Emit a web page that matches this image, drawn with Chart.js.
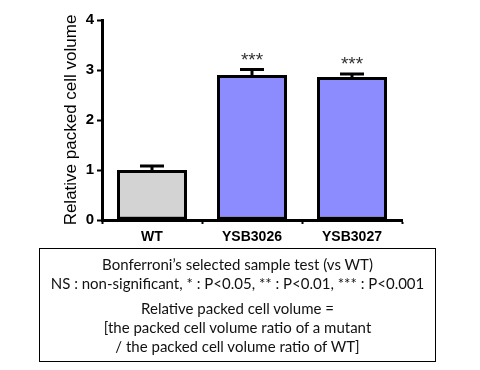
<!DOCTYPE html>
<html>
<head>
<meta charset="utf-8">
<script src="https://cdn.jsdelivr.net/npm/chart.js@4/dist/chart.umd.min.js"></script>
<style>
  body { margin: 0; background: #fff; }
  #wrap { position: relative; width: 480px; height: 370px; }
  #chartBox { position: absolute; left: 0; top: 0; width: 480px; height: 250px; }
  #note {
    position: absolute; left: 39px; top: 248px; width: 397px; height: 114px;
    border: 1.5px solid #000; box-sizing: border-box;
    font-family: Lato, "Open Sans", sans-serif; font-size: 15px; color: #111;
    text-align: center; line-height: 19px; padding-top: 6px;
  }
  #note p { margin: 0 0 6px 0; }
</style>
</head>
<body>
<div id="wrap">
  <div id="chartBox"><canvas id="myChart" width="480" height="250"></canvas></div>
  <div id="note">
    <p>Bonferroni’s selected sample test (vs WT)<br>NS : non-significant, * : P&lt;0.05, ** : P&lt;0.01, *** : P&lt;0.001</p>
    <p>Relative packed cell volume =<br>[the packed cell volume ratio of a mutant<br>/ the packed cell volume ratio of WT]</p>
  </div>
</div>
<script>
var strains = ["WT", "YSB3026", "YSB3027"];
var volume = [1.0, 2.9, 2.86];
var errUp = [0.08, 0.11, 0.06];
var stars = ["", "***", "***"];
var fills = ["#d3d3d3", "#8c8cff", "#8c8cff"];

// upper error bars + significance stars
var errorBars = {
    id: "errorBars",
    afterDatasetsDraw: function (chart) {
        var ctx = chart.ctx;
        var y = chart.scales.y;
        var meta = chart.getDatasetMeta(0);
        ctx.save();
        for (var i = 0; i < volume.length; i++) {
            var bx = meta.data[i].x;
            var top = y.getPixelForValue(volume[i]);
            var hi = y.getPixelForValue(volume[i] + errUp[i]);
            ctx.strokeStyle = "#000";
            ctx.lineWidth = 3;
            ctx.beginPath();
            ctx.moveTo(bx, top);
            ctx.lineTo(bx, hi);
            ctx.moveTo(bx - 12, hi);
            ctx.lineTo(bx + 12, hi);
            ctx.stroke();
            if (stars[i]) {
                ctx.fillStyle = "#333";
                ctx.font = "19px Arial, 'Liberation Sans'";
                ctx.textAlign = "center";
                ctx.textBaseline = "middle";
                ctx.fillText(stars[i], bx, hi - 9);
            }
        }
        ctx.restore();
    }
};

new Chart(document.getElementById("myChart"), {
    type: "bar",
    data: {
        labels: strains,
        datasets: [{
            data: volume,
            backgroundColor: fills,
            borderColor: "#000",
            borderWidth: 3,
            borderSkipped: false,
            categoryPercentage: 1,
            barPercentage: 0.7
        }]
    },
    options: {
        responsive: false,
        animation: false,
        layout: { padding: { left: 61, top: 20, right: 78, bottom: 0 } },
        plugins: { legend: { display: false }, tooltip: { enabled: false } },
        scales: {
            x: {
                offset: true,
                grid: { drawOnChartArea: false, tickLength: 4, tickWidth: 2, color: "#000" },
                border: { color: "#000", width: 3 },
                ticks: { color: "#000", font: { family: "Arial", size: 14, weight: "bold" }, padding: 5 },
                afterFit: function (s) { s.height = 30; }
            },
            y: {
                min: 0,
                max: 4,
                ticks: { stepSize: 1, color: "#000", font: { family: "Arial", size: 15, weight: "bold" }, padding: 3 },
                grid: { drawOnChartArea: false, tickLength: 5, tickWidth: 2, color: "#000" },
                border: { color: "#000", width: 3 },
                title: {
                    display: true,
                    text: "Relative packed cell volume",
                    color: "#000",
                    font: { family: "Arial", size: 17 },
                    padding: 0
                },
                afterFit: function (s) { s.width = 41; }
            }
        }
    },
    plugins: [errorBars]
});
</script>
</body>
</html>
